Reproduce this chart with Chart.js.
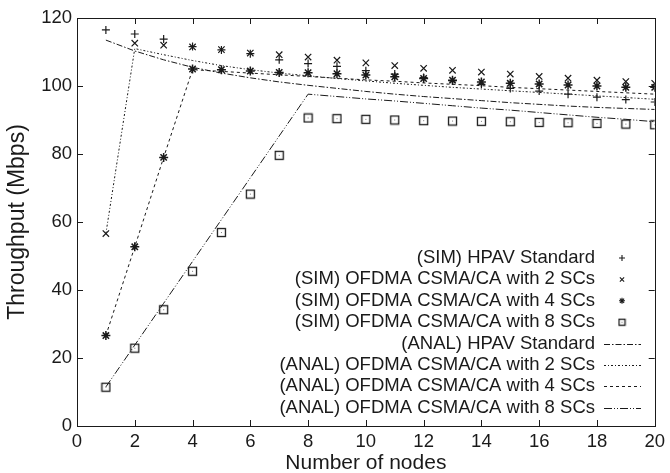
<!DOCTYPE html>
<html>
<head>
<meta charset="utf-8">
<script src="https://cdn.jsdelivr.net/npm/chart.js@4.4.0/dist/chart.umd.min.js"></script>
<style>
  html, body { margin: 0; padding: 0; background: #fff; }
  #wrap { width: 670px; height: 473px; }
</style>
</head>
<body>
<div id="wrap"><canvas id="myChart" width="670" height="473"></canvas></div>
<script>
// number of nodes
const nodes = [1,2,3,4,5,6,7,8,9,10,11,12,13,14,15,16,17,18,19,20];

// simulation points
const sim_hpav = [116.5,115.3,113.8,111.6,110.6,109.5,107.7,106.6,105.8,104.5,103.5,102.5,101.5,100.5,99.3,98.5,97.6,96.7,96.0,95.3];
const sim_2sc  = [56.6,112.6,112.0,111.5,110.7,109.7,109.2,108.5,107.6,106.8,106.0,105.2,104.6,104.1,103.5,102.8,102.3,101.7,101.3,100.8];
const sim_4sc  = [26.6,52.7,79.0,105.0,104.8,104.4,104.0,103.9,103.6,103.2,102.7,102.2,101.7,101.2,100.8,100.6,100.3,100.0,99.6,99.6];
const sim_8sc  = [11.4,22.9,34.2,45.5,56.9,68.2,79.6,90.6,90.4,90.2,90.0,89.8,89.7,89.6,89.5,89.3,89.2,89.0,88.8,88.6];

// analytical curves
const anal_hpav = [113.5,110.3,107.7,105.5,103.8,102.4,101.2,100.2,99.3,98.4,97.6,96.9,96.3,95.7,95.1,94.6,94.1,93.7,93.4,93.1];
const anal_2sc  = [56.6,111.0,109.2,107.5,106.0,104.8,103.8,103.0,102.2,101.5,100.8,100.2,99.6,99.1,98.6,98.1,97.6,97.1,96.6,96.1];
const anal_4sc  = [26.6,52.7,79.0,104.8,104.3,103.8,103.3,102.8,102.3,101.8,101.4,100.9,100.5,100.1,99.6,99.2,98.8,98.4,98.0,97.6];
const anal_8sc  = [11.5,23.8,36.1,48.4,60.7,73.0,85.3,97.6,96.9,96.2,95.6,94.9,94.2,93.5,92.9,92.2,91.5,90.8,90.2,89.5];

const x_ticks = [0,2,4,6,8,10,12,14,16,18,20];
const y_ticks = [0,20,40,60,80,100,120];

const ink = '#1a1a1a';
const fontFam = "'Liberation Sans', Arial, sans-serif";

function pts(ys){
  return ys.map(function(v, i){ return {x: nodes[i], y: v}; });
}

// square with a dot in the middle
function makeSquare(n){
  let cv = document.createElement('canvas');
  cv.width = n + 3; cv.height = n + 3;
  let c = cv.getContext('2d');
  c.strokeStyle = ink;
  c.lineWidth = 1.3;
  c.strokeRect(1.5, 1.5, n, n);
  c.fillStyle = '#777';
  let m = Math.floor((n + 3) / 2);
  c.fillRect(m, m, 1, 1);
  return cv;
}
const sq = makeSquare(8);
const sqKey = makeSquare(6);

function simSet(label, ys, style, r, bw){
  return {
    label: label, data: pts(ys), showLine: false,
    pointStyle: style, pointRadius: r, pointHoverRadius: r,
    borderColor: ink, backgroundColor: 'rgba(0,0,0,0)', pointBorderWidth: bw
  };
}
function analSet(label, ys, dash){
  return {
    label: label, data: pts(ys), showLine: true, pointRadius: 0,
    borderColor: ink, borderWidth: 1, borderDash: dash, tension: 0, fill: false
  };
}

const datasets = [
  simSet('(SIM) HPAV Standard', sim_hpav, 'cross', 4, 1.2),
  simSet('(SIM) OFDMA CSMA/CA with 2 SCs', sim_2sc, 'crossRot', 4.5, 1.2),
  simSet('(SIM) OFDMA CSMA/CA with 4 SCs', sim_4sc, 'star', 4.5, 1.5),
  simSet('(SIM) OFDMA CSMA/CA with 8 SCs', sim_8sc, sq, 5, 1.2),
  analSet('(ANAL) HPAV Standard', anal_hpav, [6,2,1.5,2]),
  analSet('(ANAL) OFDMA CSMA/CA with 2 SCs', anal_2sc, [2,2,1,2]),
  analSet('(ANAL) OFDMA CSMA/CA with 4 SCs', anal_4sc, [3,3]),
  analSet('(ANAL) OFDMA CSMA/CA with 8 SCs', anal_8sc, [8,2,1,2,1,2])
];

// box and inward ticks like gnuplot
const frameTicks = {
  id: 'frameTicks',
  afterDatasetsDraw(chart){
    const ctx = chart.ctx, a = chart.chartArea;
    const xs = chart.scales.x, ys = chart.scales.y;
    ctx.save();
    ctx.strokeStyle = ink;
    ctx.lineWidth = 1;
    ctx.strokeRect(Math.round(a.left)+0.5, Math.round(a.top)+0.5, Math.round(a.right-a.left), Math.round(a.bottom-a.top));
    ctx.beginPath();
    x_ticks.forEach(function(t){
      let px = Math.round(xs.getPixelForValue(t)) + 0.5;
      ctx.moveTo(px, a.bottom); ctx.lineTo(px, a.bottom - 6);
      ctx.moveTo(px, a.top); ctx.lineTo(px, a.top + 6);
    });
    y_ticks.forEach(function(t){
      let py = Math.round(ys.getPixelForValue(t)) + 0.5;
      ctx.moveTo(a.left, py); ctx.lineTo(a.left + 6, py);
      ctx.moveTo(a.right, py); ctx.lineTo(a.right - 6, py);
    });
    ctx.stroke();
    ctx.restore();
  }
};

// legend inside, text right-aligned with sample on the right
const keyBox = {
  id: 'keyBox',
  afterDraw(chart){
    const ctx = chart.ctx;
    const textRight = 595, s0 = 604, s1 = 641, markX = 622, top = 258, step = 21.4;
    ctx.save();
    ctx.font = '18.5px ' + fontFam;
    ctx.fillStyle = ink;
    ctx.textAlign = 'right';
    ctx.textBaseline = 'middle';
    chart.data.datasets.forEach(function(ds, i){
      let y = top + i * step;
      ctx.fillText(ds.label, textRight, y);
      if(ds.showLine){
        ctx.strokeStyle = ink;
        ctx.lineWidth = 1;
        ctx.setLineDash(ds.borderDash);
        ctx.beginPath();
        ctx.moveTo(s0, Math.round(y)+0.5); ctx.lineTo(s1, Math.round(y)+0.5);
        ctx.stroke();
        ctx.setLineDash([]);
      }else{
        let st = ds.pointStyle === sq ? sqKey : ds.pointStyle;
        ctx.strokeStyle = ink;
        ctx.lineWidth = 1.1;
        Chart.helpers.drawPoint(ctx, {
          pointStyle: st, radius: 3, borderWidth: 1.1, rotation: 0
        }, markX, y);
      }
    });
    ctx.restore();
  }
};

Chart.defaults.font.family = fontFam;
Chart.defaults.color = ink;

new Chart(document.getElementById('myChart'), {
  type: 'line',
  data: { datasets: datasets },
  options: {
    responsive: false,
    animation: false,
    layout: { padding: { top: 18, right: 13, left: 0, bottom: 0 } },
    plugins: {
      legend: { display: false },
      tooltip: { enabled: false }
    },
    scales: {
      x: {
        type: 'linear', min: 0, max: 20,
        afterBuildTicks: function(s){ s.ticks = x_ticks.map(function(v){ return {value: v}; }); },
        afterFit: function(s){ s.height = 47; },
        grid: { display: false, drawTicks: false },
        border: { display: false },
        ticks: { font: { size: 18.5 }, padding: 5, maxRotation: 0, autoSkip: false },
        title: { display: true, text: 'Number of nodes', font: { size: 21 }, padding: { top: 0, bottom: -3 } }
      },
      y: {
        type: 'linear', min: 0, max: 120,
        afterBuildTicks: function(s){ s.ticks = y_ticks.map(function(v){ return {value: v}; }); },
        afterFit: function(s){ s.width = 77; },
        grid: { display: false, drawTicks: false },
        border: { display: false },
        ticks: { font: { size: 18.5 }, padding: 5 },
        title: { display: true, text: 'Throughput (Mbps)', font: { size: 23 }, padding: { top: 4, bottom: 0 } }
      }
    }
  },
  plugins: [frameTicks, keyBox]
});
</script>
</body>
</html>
